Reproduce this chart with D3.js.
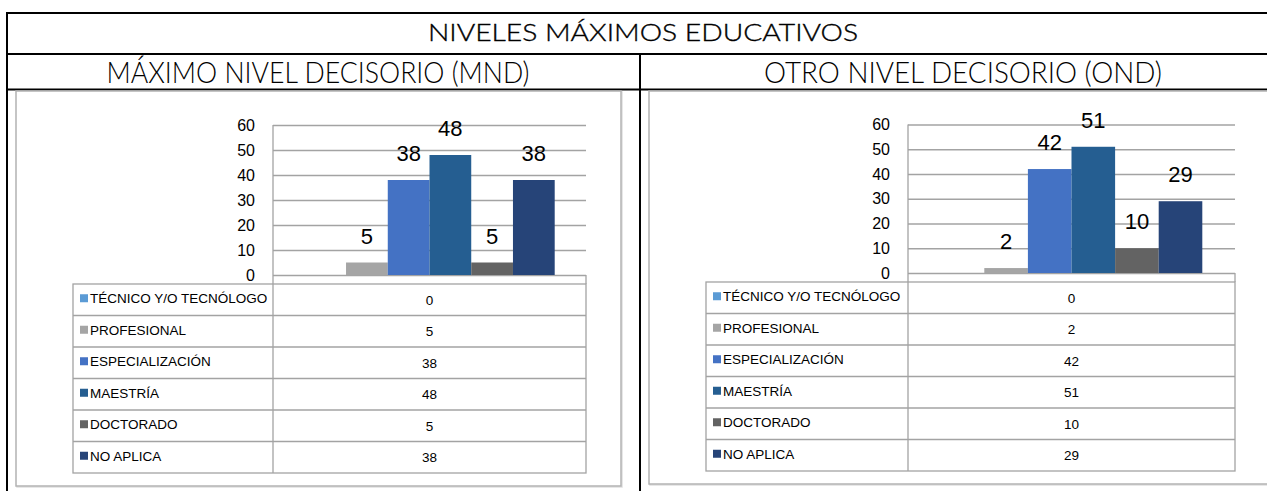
<!DOCTYPE html>
<html>
<head>
<meta charset="utf-8">
<script src="https://cdn.jsdelivr.net/npm/d3@7"></script>
<style>
  html, body { margin: 0; padding: 0; background: #fff; }
  svg { display: block; }
</style>
</head>
<body>
<svg id="chart" width="1267" height="491"></svg>
<script>
// ---------- DATA ----------
const mainTitle = "NIVELES MÁXIMOS EDUCATIVOS";
const panelTitles = ["MÁXIMO NIVEL DECISORIO (MND)", "OTRO NIVEL DECISORIO (OND)"];
const seriesNames = ["TÉCNICO Y/O TECNÓLOGO", "PROFESIONAL", "ESPECIALIZACIÓN", "MAESTRÍA", "DOCTORADO", "NO APLICA"];
const mndValues = [0, 5, 38, 48, 5, 38];
const ondValues = [0, 2, 42, 51, 10, 29];
const yTicks = [0, 10, 20, 30, 40, 50, 60];
const seriesColors = ["#5B9BD5", "#A5A5A5", "#4472C4", "#255E91", "#636363", "#264478"];

// ---------- LAYOUT ----------
const svg = d3.select("#chart");
const black = "#000";
const gridCol = "#a3a3a3";
const labelFont = "'Liberation Sans', Arial, sans-serif";
const titleFont = "Lato, 'Open Sans', sans-serif";

// outer table lines
svg.append("line").attr("x1", 6).attr("x2", 1300).attr("y1", 13).attr("y2", 13).attr("stroke", black).attr("stroke-width", 2);
svg.append("line").attr("x1", 7).attr("x2", 7).attr("y1", 12).attr("y2", 491).attr("stroke", black).attr("stroke-width", 2);
svg.append("line").attr("x1", 6).attr("x2", 1300).attr("y1", 54).attr("y2", 54).attr("stroke", black).attr("stroke-width", 2);
svg.append("line").attr("x1", 6).attr("x2", 1300).attr("y1", 89.5).attr("y2", 89.5).attr("stroke", black).attr("stroke-width", 2);
svg.append("line").attr("x1", 640).attr("x2", 640).attr("y1", 53).attr("y2", 491).attr("stroke", black).attr("stroke-width", 2);

svg.append("text").text(mainTitle)
  .attr("x", 643).attr("y", 41).attr("text-anchor", "middle")
  .attr("font-family", titleFont).attr("font-weight", 300).attr("font-size", 24)
  .attr("textLength", 430).attr("lengthAdjust", "spacingAndGlyphs")
  .attr("fill", "#000").attr("stroke", "#000").attr("stroke-width", 0.35);

const panels = [
  { title: panelTitles[0], values: mndValues, titleX: 318, titleW: 423,
    frame: [16, 91, 621, 486], plotL: 273, plotR: 586, y0: 275, y60: 125,
    tableL: 73, tableTop: 284, rowH: 31.5 },
  { title: panelTitles[1], values: ondValues, titleX: 963, titleW: 398,
    frame: [649, 91, 1300, 484], plotL: 908, plotR: 1235, y0: 273, y60: 124.5,
    tableL: 706, tableTop: 282, rowH: 31.5 }
];

panels.forEach(p => {
  const g = svg.append("g");
  // subtitle
  g.append("text").text(p.title)
    .attr("x", p.titleX).attr("y", 83).attr("text-anchor", "middle")
    .attr("font-family", titleFont).attr("font-weight", 300).attr("font-size", 29)
    .attr("textLength", p.titleW).attr("lengthAdjust", "spacingAndGlyphs")
    .attr("fill", "#000");

  // chart frame
  const [fx1, fy1, fx2, fy2] = p.frame;
  g.append("rect").attr("x", fx1 + 1).attr("y", fy1 + 1).attr("width", fx2 - fx1).attr("height", fy2 - fy1)
    .attr("fill", "none").attr("stroke", "#e0e0e0").attr("stroke-width", 1.5);
  g.append("rect").attr("x", fx1).attr("y", fy1).attr("width", fx2 - fx1).attr("height", fy2 - fy1)
    .attr("fill", "#fff").attr("stroke", "#b3b3b3").attr("stroke-width", 1.5);

  // scales
  const y = d3.scaleLinear().domain([0, 60]).range([p.y0, p.y60]);
  const x0 = d3.scaleBand().domain([""]).range([p.plotL, p.plotR]).paddingInner(0).paddingOuter(0.125);
  const x1 = d3.scaleBand().domain(seriesNames).range([0, x0.bandwidth()]).padding(0);

  // gridlines + tick labels
  const axis = d3.axisLeft(y).tickValues(yTicks).tickSize(-(p.plotR - p.plotL)).tickPadding(18);
  const ag = g.append("g").attr("transform", `translate(${p.plotL},0)`).call(axis);
  ag.select(".domain").remove();
  ag.selectAll(".tick line").attr("stroke", gridCol).attr("stroke-width", 1.3);
  ag.selectAll(".tick text").attr("font-family", labelFont).attr("font-size", 16).attr("fill", "#000");

  // bars
  const data = seriesNames.map((s, i) => ({ s, v: p.values[i], c: seriesColors[i] }));
  g.append("g").selectAll("rect").data(data).join("rect")
    .attr("x", d => x0("") + x1(d.s))
    .attr("y", d => y(d.v))
    .attr("width", x1.bandwidth())
    .attr("height", d => y(0) - y(d.v))
    .attr("fill", d => d.c);

  // data labels
  g.append("g").selectAll("text").data(data.filter(d => d.v > 0)).join("text")
    .attr("x", d => x0("") + x1(d.s) + x1.bandwidth() / 2)
    .attr("y", d => y(d.v) - 19)
    .attr("text-anchor", "middle")
    .attr("font-family", labelFont).attr("font-size", 22)
    .attr("fill", "#000")
    .text(d => d.v);

  // vertical axis line
  g.append("line").attr("x1", p.plotL).attr("x2", p.plotL).attr("y1", p.y60).attr("y2", p.tableTop)
    .attr("stroke", gridCol).attr("stroke-width", 1.3);
  // header row of data table (empty category)
  g.append("line").attr("x1", p.plotR).attr("x2", p.plotR).attr("y1", p.y0).attr("y2", p.tableTop)
    .attr("stroke", gridCol).attr("stroke-width", 1.3);

  // data table
  const tb = g.append("g");
  const tableBottom = p.tableTop + p.rowH * seriesNames.length;
  tb.append("rect").attr("x", p.tableL).attr("y", p.tableTop)
    .attr("width", p.plotR - p.tableL).attr("height", tableBottom - p.tableTop)
    .attr("fill", "none").attr("stroke", gridCol).attr("stroke-width", 1.3);
  tb.append("line").attr("x1", p.plotL).attr("x2", p.plotL).attr("y1", p.tableTop).attr("y2", tableBottom)
    .attr("stroke", gridCol).attr("stroke-width", 1.3);
  const rows = tb.selectAll("g.row").data(data).join("g").attr("class", "row")
    .attr("transform", (d, i) => `translate(0,${p.tableTop + i * p.rowH})`);
  rows.filter((d, i) => i > 0).append("line")
    .attr("x1", p.tableL).attr("x2", p.plotR).attr("y1", 0).attr("y2", 0)
    .attr("stroke", gridCol).attr("stroke-width", 1.3);
  rows.append("rect").attr("x", p.tableL + 7).attr("y", p.rowH / 2 - 5.5)
    .attr("width", 8).attr("height", 8).attr("fill", d => d.c);
  rows.append("text").attr("x", p.tableL + 17).attr("y", p.rowH / 2 + 3.5)
    .attr("font-family", labelFont).attr("font-size", 13.5).attr("fill", "#000")
    .text(d => d.s);
  rows.append("text").attr("x", (p.plotL + p.plotR) / 2).attr("y", p.rowH / 2 + 5)
    .attr("text-anchor", "middle")
    .attr("font-family", labelFont).attr("font-size", 13.5).attr("fill", "#000")
    .text(d => d.v);
});
</script>
</body>
</html>
